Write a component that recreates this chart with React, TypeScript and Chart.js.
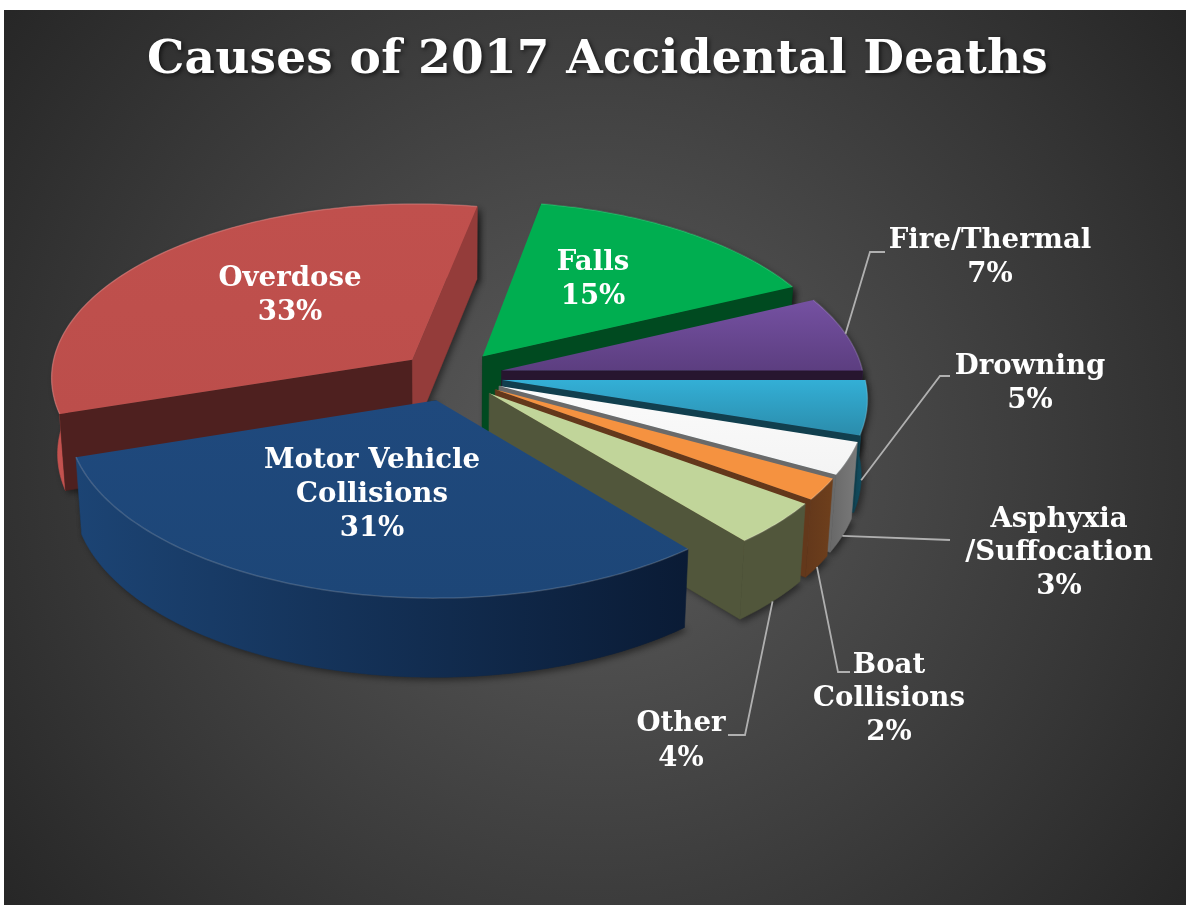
import React, { useEffect, useRef } from "react";
import { Chart, registerables } from "chart.js";

Chart.register(...registerables);

const chartTitle = "Causes of 2017 Accidental Deaths";
const categories = ["Falls", "Fire/Thermal", "Drowning", "Asphyxia /Suffocation", "Boat Collisions", "Other", "Motor Vehicle Collisions", "Overdose"];
const shares = [15, 7, 5, 3, 2, 4, 31, 33];
const explode = [52, 52, 52, 52, 52, 52, 52, 52];
const paintOrder = [7, 0, 1, 2, 3, 4, 5, 6];

const topColors = [["#00ae50", "#00ae50"], ["#7551a2", "#5c3e80"], ["#33afd6", "#2b8cab"], ["#fbfbfb", "#f4f4f4"], ["#f59240", "#f59240"], ["#c1d59a", "#c1d59a"], ["#1f497d", "#1d4677"], ["#c0504d", "#bc4e4b"]];
const startWall = ["#004a20", "#27162f", "#113f4e", "#6a6a6a", "#63381b", "#51563b", "#0a1c36", "#4e201f"];
const endWall = ["#004a20", "#27162f", "#113f4e", "#6a6a6a", "#63381b", "#51563b", "#0a1c36", "#943c3a"];
const rimColors = [["#004a20", "#004a20"], ["#3a2858", "#2c1c40"], ["#145468", "#0f4252"], ["#7a7a7a", "#686868"], ["#6e3f1c", "#63381b"], ["#51563b", "#51563b"], ["#1c4474", "#0a1b35"], ["#c4524f", "#a84643"]];

const labelFont = 'bold 27.6px "DejaVu Serif"';
type L = { lines: [string, number, number][]; leader?: [number, number][]; frac?: number; slice?: number };
const labelLayout: L[] = [
  { lines: [["Overdose", 290, 279], ["33%", 290, 313]] },
  { lines: [["Falls", 593, 263], ["15%", 593, 297]] },
  { lines: [["Motor Vehicle", 372, 461], ["Collisions", 372, 495], ["31%", 372, 529]] },
  { lines: [["Fire/Thermal", 990, 241], ["7%", 990, 275]], slice: 1, frac: 0, leader: [[870, 252], [885, 252]] },
  { lines: [["Drowning", 1030, 367], ["5%", 1030, 401]], slice: 2, frac: 0.95, leader: [[940, 376], [950, 376]] },
  { lines: [["Asphyxia", 1059, 520], ["/Suffocation", 1059, 553], ["3%", 1059, 587]], slice: 3, frac: 1, leader: [[950, 540]] },
  { lines: [["Boat", 889, 666], ["Collisions", 889, 699], ["2%", 889, 733]], slice: 4, frac: 1, leader: [[838, 672], [850, 672]] },
  { lines: [["Other", 681, 724], ["4%", 681, 759]], slice: 5, frac: 1, leader: [[745, 735], [728, 735]] },
];

const CX = 451, CY = 376, TILT = 0.48, PERSP = 3750, DEPTH = 76, CONVERGE = 0.015;
const project = (u: number, v: number, z: number): [number, number] => {
  const s = PERSP / (PERSP - v);
  const f = z / DEPTH;
  return [CX + u * s * (1 - CONVERGE * f), CY + TILT * v * s + z * (1 + v / 10000)];
};

function sliceGeom(arc: any) {
  const a0 = arc.startAngle, a1 = arc.endAngle, r = arc.outerRadius;
  const mid = (a0 + a1) / 2;
  const off = (arc.options.offset || 0) / 4;
  const ox = Math.cos(mid) * off, oy = Math.sin(mid) * off;
  const rim = (a: number, z: number) => project(ox + r * Math.cos(a), oy + r * Math.sin(a), z);
  const apex = (z: number) => project(ox, oy, z);
  const n = Math.max(4, Math.ceil((a1 - a0) / (Math.PI / 180)));
  const angles: number[] = [];
  for (let i = 0; i <= n; i++) angles.push(a0 + ((a1 - a0) * i) / n);
  return { a0, a1, mid, rim, apex, angles };
}

function poly(ctx: CanvasRenderingContext2D, pts: [number, number][]) {
  ctx.beginPath();
  pts.forEach((p, i) => (i ? ctx.lineTo(p[0], p[1]) : ctx.moveTo(p[0], p[1])));
  ctx.closePath();
}

function extents(pts: [number, number][]) {
  const xs = pts.map((p) => p[0]), ys = pts.map((p) => p[1]);
  return { x0: Math.min(...xs), x1: Math.max(...xs), y0: Math.min(...ys), y1: Math.max(...ys) };
}

const piePlugin = {
  id: "pie3d",
  beforeDraw(chart: any) {
    const ctx: CanvasRenderingContext2D = chart.ctx;
    ctx.save();
    ctx.fillStyle = "#ffffff";
    ctx.fillRect(0, 0, chart.width, chart.height);
    const g = ctx.createRadialGradient(595, 458, 0, 595, 458, 790);
    g.addColorStop(0, "#5c5c5c");
    g.addColorStop(1, "#232323");
    ctx.fillStyle = g;
    ctx.fillRect(4, 10, chart.width - 4, chart.height - 10);
    ctx.restore();
    ctx.save();
    ctx.shadowColor = "rgba(0,0,0,0.6)";
    ctx.shadowBlur = 4;
    ctx.shadowOffsetX = 2;
    ctx.shadowOffsetY = 2;
    (ctx as any).letterSpacing = "0.2px";
  },
  beforeDatasetsDraw(chart: any) {
    const ctx: CanvasRenderingContext2D = chart.ctx;
    ctx.restore();
    const arcs = chart.getDatasetMeta(0).data;
    ctx.save();
    ctx.shadowColor = "rgba(0,0,0,0.45)";
    ctx.shadowBlur = 6;
    ctx.shadowOffsetX = 3;
    ctx.shadowOffsetY = 3;
    ctx.fillStyle = "#222";
    paintOrder.forEach((i) => {
      const g = sliceGeom(arcs[i]);
      poly(ctx, [g.apex(DEPTH), ...g.angles.map((a) => g.rim(a, DEPTH)), ...g.angles.slice().reverse().map((a) => g.rim(a, 0))]);
      ctx.fill();
      poly(ctx, [g.apex(0), g.rim(g.a1, 0), g.rim(g.a1, DEPTH), g.apex(DEPTH)]);
      ctx.fill();
    });
    ctx.restore();

    ctx.lineWidth = 0.6;
    paintOrder.forEach((i) => {
      const g = sliceGeom(arcs[i]);
      const rimPts = [...g.angles.map((a) => g.rim(a, 0)), ...g.angles.slice().reverse().map((a) => g.rim(a, DEPTH))];
      const ex = extents(rimPts);
      const rg = ctx.createLinearGradient(ex.x0, 0, ex.x1, 0);
      const flip = i >= 1 && i <= 5;
      rg.addColorStop(0, rimColors[i][flip ? 1 : 0]);
      rg.addColorStop(1, rimColors[i][flip ? 0 : 1]);
      ctx.fillStyle = rg;
      ctx.strokeStyle = rg;
      poly(ctx, rimPts);
      ctx.fill();
      ctx.stroke();
      if (Math.sin(g.a0 - Math.PI / 2) > 0) {
        ctx.fillStyle = startWall[i];
        ctx.strokeStyle = startWall[i];
        poly(ctx, [g.apex(0), g.rim(g.a0, 0), g.rim(g.a0, DEPTH), g.apex(DEPTH)]);
        ctx.fill();
        ctx.stroke();
      }
      if (Math.sin(g.a1 + Math.PI / 2) > 0) {
        ctx.fillStyle = endWall[i];
        ctx.strokeStyle = endWall[i];
        poly(ctx, [g.apex(0), g.rim(g.a1, 0), g.rim(g.a1, DEPTH), g.apex(DEPTH)]);
        ctx.fill();
        ctx.stroke();
      }
      const topPts: [number, number][] = [g.apex(0), ...g.angles.map((a) => g.rim(a, 0))];
      const te = extents(topPts);
      const tg = ctx.createLinearGradient(0, te.y0, 0, te.y1);
      tg.addColorStop(0, topColors[i][0]);
      tg.addColorStop(1, topColors[i][1]);
      ctx.fillStyle = tg;
      poly(ctx, topPts);
      ctx.fill();
      ctx.save();
      ctx.strokeStyle = "rgba(255,255,255,0.16)";
      ctx.lineWidth = 1.5;
      ctx.beginPath();
      g.angles.forEach((a, k) => {
        const p = g.rim(a, 0);
        if (k) ctx.lineTo(p[0], p[1]);
        else ctx.moveTo(p[0], p[1]);
      });
      ctx.stroke();
      ctx.restore();
    });
    return false;
  },
  afterDraw(chart: any) {
    const ctx: CanvasRenderingContext2D = chart.ctx;
    const arcs = chart.getDatasetMeta(0).data;
    ctx.save();
    ctx.strokeStyle = "#b0b0b0";
    ctx.lineWidth = 1.8;
    labelLayout.forEach((l) => {
      if (!l.leader) return;
      const g = sliceGeom(arcs[l.slice!]);
      const s = g.rim(g.mid, DEPTH * (l.frac || 0));
      ctx.beginPath();
      ctx.moveTo(s[0], s[1]);
      l.leader.forEach((p) => ctx.lineTo(p[0], p[1]));
      ctx.stroke();
    });
    ctx.font = labelFont;
    ctx.fillStyle = "#ffffff";
    ctx.textAlign = "center";
    ctx.textBaseline = "middle";
    labelLayout.forEach((l) => l.lines.forEach(([t, x, y]) => ctx.fillText(t, x, y)));
    ctx.restore();
  },
};

export default function App() {
  const ref = useRef<HTMLCanvasElement | null>(null);
  useEffect(() => {
    const chart = new Chart(ref.current!, {
      type: "pie",
      data: {
        labels: categories,
        datasets: [{ data: shares, offset: explode.map((e) => e * 4), backgroundColor: topColors.map((c) => c[0]), borderWidth: 0 }],
      },
      options: {
        animation: false,
        responsive: false,
        rotation: 10.8,
        radius: 362,
        events: [],
        layout: { padding: { left: 9 } },
        plugins: {
          legend: { display: false },
          tooltip: { enabled: false },
          title: {
            display: true,
            text: chartTitle,
            color: "#ffffff",
            font: { family: '"DejaVu Serif"', size: 47, weight: "bold", lineHeight: 1.2 },
            padding: { top: 33, bottom: 0 },
          },
        },
      } as any,
      plugins: [piePlugin as any],
    });
    return () => chart.destroy();
  }, []);
  return (
    <div style={{ position: "absolute", left: 0, top: 0, width: 1186, height: 905 }}>
      <canvas ref={ref} width={1186} height={905} style={{ display: "block" }} />
    </div>
  );
}
